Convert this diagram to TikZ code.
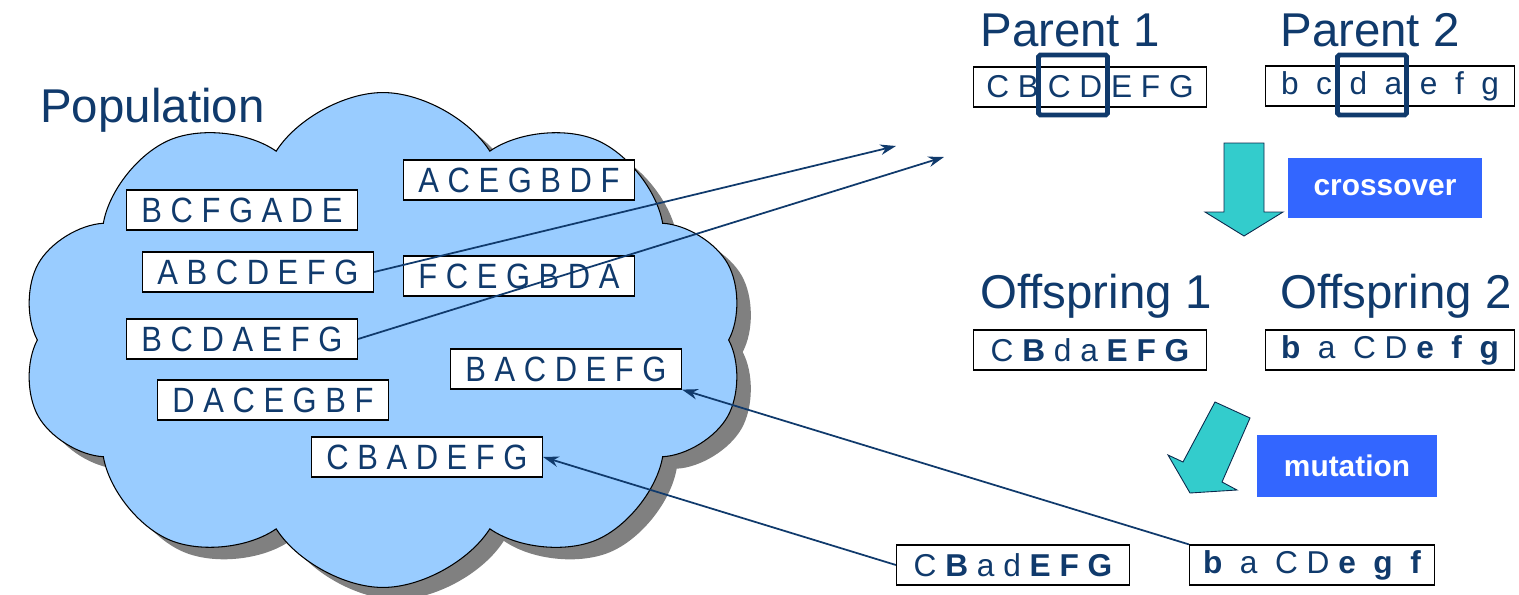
\documentclass[tikz,border=0pt]{standalone}
\usepackage{fontspec}
\setmainfont{Liberation Sans}
\newfontfamily\narrowfont[FakeStretch=0.88]{Liberation Sans}
\usetikzlibrary{shapes.symbols,shadows,arrows.meta}
\definecolor{navy}{RGB}{16,58,108}
\definecolor{cloudblue}{RGB}{153,204,255}
\definecolor{teal}{RGB}{51,204,204}
\definecolor{tagblue}{RGB}{51,102,255}
\newcommand{\titlefont}{\fontsize{27}{32}\selectfont}
\newcommand{\genefont}{\fontsize{18}{22}\selectfont}
\tikzset{
  title/.style={text=navy, font=\titlefont, inner sep=0pt},
  chrom/.style={draw=black, line width=0.7pt, fill=white, text=navy,
    font=\narrowfont\fontsize{20}{24}\selectfont,
    minimum width=4.62cm, minimum height=0.8cm, inner sep=0pt},
  kid/.style={chrom, font=\genefont, minimum width=4.66cm},
  hilite/.style={draw=navy, line width=2.8pt, rounded corners=1pt, minimum width=1.38cm, minimum height=1.2cm},
  tag/.style={fill=tagblue, text=white, font=\fontsize{17}{20}\selectfont\bfseries, inner sep=0pt},
  blockarrow/.style={fill=teal, draw=navy!70!black, line width=0.5pt},
  pick/.style={draw=navy, line width=1pt, -{Stealth[length=9pt,width=6pt]}}
}
\begin{document}
\begin{tikzpicture}[x=0.02cm,y=-0.02cm]
\useasboundingbox (0,0) rectangle (1519,595);

\node[cloud, cloud puffs=10, cloud puff arc=115, aspect=1.45, draw=black, line width=0.6pt,
  fill=cloudblue, minimum width=14.5cm, minimum height=9.9cm,
  drop shadow={shadow xshift=0.28cm, shadow yshift=-0.24cm, fill=black!50, opacity=1}] (pop) at (383,340) {};
\node[title, anchor=base west] (poplabel) at (40,122) {Population};

\node[chrom] (acegbdf) at (519,180) {A C E G B D F};
\node[chrom] (bcfgade) at (242,210) {B C F G A D E};
\node[chrom] (abcdefg) at (258,272) {A B C D E F G};
\node[chrom] (fcegbda) at (519,276) {F C E G B D A};
\node[chrom] (bcdaefg) at (242,339) {B C D A E F G};
\node[chrom] (bacdefg) at (566,369) {B A C D E F G};
\node[chrom] (dacegbf) at (273,400) {D A C E G B F};
\node[chrom] (cbadefg) at (427,457) {C B A D E F G};

\node[title, anchor=base west] (p1label) at (980,47) {Parent 1};
\node[title, anchor=base west] (p2label) at (1280,47) {Parent 2};
\node[kid] (par1) at (1090,87) {C B C D E F G};
\node[kid, minimum width=4.98cm] (par2) at (1390,86) {b~~c~~d~~a~~e~~f~~g};
\node[hilite] (cut1) at (1073,85) {};
\node[hilite] (cut2) at (1372,85) {};

\draw[blockarrow] (1224,143) -- (1264,143) -- (1264,212) -- (1283,212) -- (1244,236)
  -- (1205,212) -- (1224,212) -- cycle;
\node[tag, minimum width=3.9cm, minimum height=1.2cm] (cross) at (1385,188) {crossover};

\node[title, anchor=base west] (o1label) at (980,308) {Offspring 1};
\node[title, anchor=base west] (o2label) at (1280,308) {Offspring 2};
\node[kid] (off1) at (1090,350) {C \textbf{B} d a \textbf{E F G}};
\node[kid, minimum width=4.98cm] (off2) at (1390,350) {\textbf{b}~~a~~C~D~\textbf{e}~~\textbf{f}~~\textbf{g}};

\draw[blockarrow] (1215,402) -- (1250,418) -- (1222,482) -- (1237,490) -- (1190,493)
  -- (1168,455) -- (1183,462) -- cycle;
\node[tag, minimum width=3.6cm, minimum height=1.24cm] (mut) at (1347,466) {mutation};

\node[kid] (mut1) at (1013,565) {C \textbf{B} a d \textbf{E F G}};
\node[kid, minimum width=4.9cm] (mut2) at (1312,565) {\textbf{b}~~a~~C~D~\textbf{e}~~\textbf{g}~~\textbf{f}};

\coordinate (sel1) at (896,146);
\coordinate (sel2) at (944,157);
\draw[pick] (abcdefg.east) -- (sel1);
\draw[pick] (bcdaefg.east) -- (sel2);
\draw[pick] (mut2.north west) -- (bacdefg.south east);
\draw[pick] (mut1.west) -- (cbadefg.east);
\end{tikzpicture}
\end{document}
